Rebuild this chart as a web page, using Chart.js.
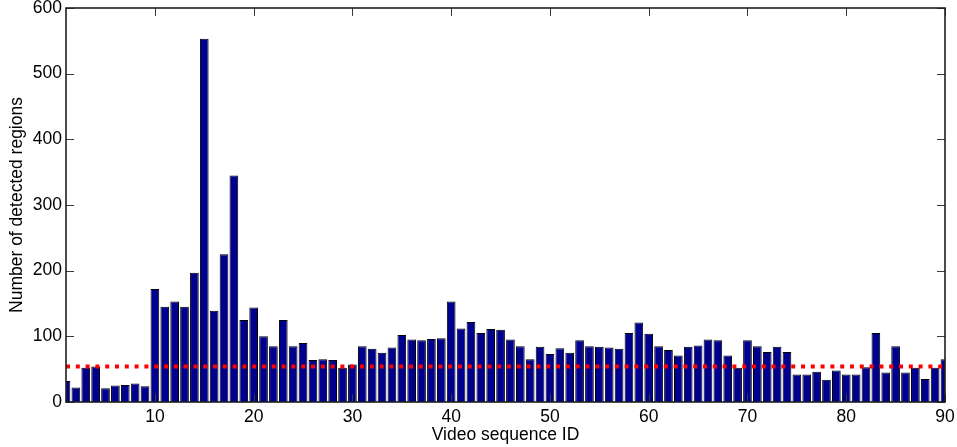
<!DOCTYPE html>
<html>
<head>
<meta charset="utf-8">
<script src="https://cdn.jsdelivr.net/npm/chart.js@4/dist/chart.umd.min.js"></script>
<style>
  html, body { margin: 0; padding: 0; background: #fff; }
  #wrap { width: 957px; height: 447px; position: relative; }
</style>
</head>
<body>
<div id="wrap"><canvas id="c"></canvas></div>
<script>
// Sequence IDs 1..90
const sequenceIds = [
  1, 2, 3, 4, 5, 6, 7, 8, 9, 10,
  11, 12, 13, 14, 15, 16, 17, 18, 19, 20,
  21, 22, 23, 24, 25, 26, 27, 28, 29, 30,
  31, 32, 33, 34, 35, 36, 37, 38, 39, 40,
  41, 42, 43, 44, 45, 46, 47, 48, 49, 50,
  51, 52, 53, 54, 55, 56, 57, 58, 59, 60,
  61, 62, 63, 64, 65, 66, 67, 68, 69, 70,
  71, 72, 73, 74, 75, 76, 77, 78, 79, 80,
  81, 82, 83, 84, 85, 86, 87, 88, 89, 90
];

// Number of detected regions per sequence
const detectedRegions = [
  32, 22, 52, 54, 21, 25, 26, 28, 24, 172,
  145, 153, 145, 197, 553, 139, 225, 345, 125, 144,
  100, 85, 125, 85, 90, 64, 65, 64, 52, 57,
  85, 81, 75, 83, 102, 95, 94, 96, 97, 153,
  112, 122, 105, 111, 110, 95, 85, 65, 84, 73,
  82, 75, 94, 85, 84, 83, 81, 105, 121, 104,
  85, 79, 71, 84, 86, 95, 94, 71, 52, 94,
  85, 76, 84, 76, 42, 42, 46, 34, 48, 42,
  42, 53, 105, 45, 85, 45, 52, 35, 52, 65
];

// Reference level drawn as a dotted line
const referenceLevel = 54;

const xTickValues = [10, 20, 30, 40, 50, 60, 70, 80, 90];
const yTickValues = [0, 100, 200, 300, 400, 500, 600];

const FONT = "'Liberation Sans', Arial, Helvetica, sans-serif";

// Boxed axes with inward ticks on all four sides
const boxedAxes = {
  id: 'boxedAxes',
  afterDatasetsDraw(chart) {
    const { ctx, chartArea: a, scales: { x, y } } = chart;
    const len = 8;
    ctx.save();
    ctx.strokeStyle = '#3a3a3a';
    ctx.lineWidth = 1;
    ctx.beginPath();
    xTickValues.forEach(v => {
      const px = Math.round(x.getPixelForValue(v)) + 0.5;
      ctx.moveTo(px, a.bottom); ctx.lineTo(px, a.bottom - len);
      ctx.moveTo(px, a.top); ctx.lineTo(px, a.top + len);
    });
    yTickValues.forEach(v => {
      const py = Math.round(y.getPixelForValue(v)) + 0.5;
      ctx.moveTo(a.left, py); ctx.lineTo(a.left + len, py);
      ctx.moveTo(a.right, py); ctx.lineTo(a.right - len, py);
    });
    ctx.stroke();
    ctx.strokeStyle = '#1e1e1e';
    ctx.lineWidth = 1.6;
    ctx.strokeRect(a.left, a.top, a.right - a.left, a.bottom - a.top);
    ctx.restore();
  }
};

new Chart(document.getElementById('c'), {
  type: 'bar',
  data: {
    datasets: [
      {
        type: 'line',
        data: sequenceIds.map(id => ({ x: id, y: referenceLevel })),
        borderColor: '#ff0000',
        borderWidth: 4,
        borderDash: [4, 5.8],
        pointRadius: 0,
        fill: false,
        order: 0
      },
      {
        type: 'bar',
        data: sequenceIds.map((id, i) => ({ x: id, y: detectedRegions[i] })),
        backgroundColor: '#00008f',
        borderColor: '#000000',
        borderWidth: 1,
        barPercentage: 0.88,
        categoryPercentage: 1,
        order: 1
      }
    ]
  },
  plugins: [boxedAxes],
  options: {
    responsive: true,
    maintainAspectRatio: false,
    animation: false,
    events: [],
    layout: { padding: { left: 0, right: 12, top: 8, bottom: 0 } },
    plugins: { legend: { display: false }, tooltip: { enabled: false } },
    scales: {
      x: {
        type: 'linear',
        min: 1,
        max: 90,
        offset: false,
        grid: { display: false, drawTicks: false },
        border: { display: false },
        afterBuildTicks: s => { s.ticks = xTickValues.map(v => ({ value: v })); },
        afterFit: s => { s.height = 45; s.paddingLeft = 0; s.paddingRight = 0; },
        ticks: {
          autoSkip: false,
          maxRotation: 0,
          padding: 5,
          color: '#000',
          font: { family: FONT, size: 17.5 }
        },
        title: {
          display: true,
          text: 'Video sequence ID',
          color: '#000',
          font: { family: FONT, size: 17.5 },
          padding: { top: 0, bottom: 1 }
        }
      },
      y: {
        min: 0,
        max: 600,
        grid: { display: false, drawTicks: false },
        border: { display: false },
        afterBuildTicks: s => { s.ticks = yTickValues.map(v => ({ value: v })); },
        afterFit: s => { s.width = 66; s.paddingTop = 0; s.paddingBottom = 0; },
        ticks: {
          padding: 4,
          color: '#000',
          font: { family: FONT, size: 17.5 }
        },
        title: {
          display: true,
          text: 'Number of detected regions',
          color: '#000',
          font: { family: FONT, size: 17.5 },
          padding: { top: 7, bottom: 0 }
        }
      }
    }
  }
});
</script>
</body>
</html>
